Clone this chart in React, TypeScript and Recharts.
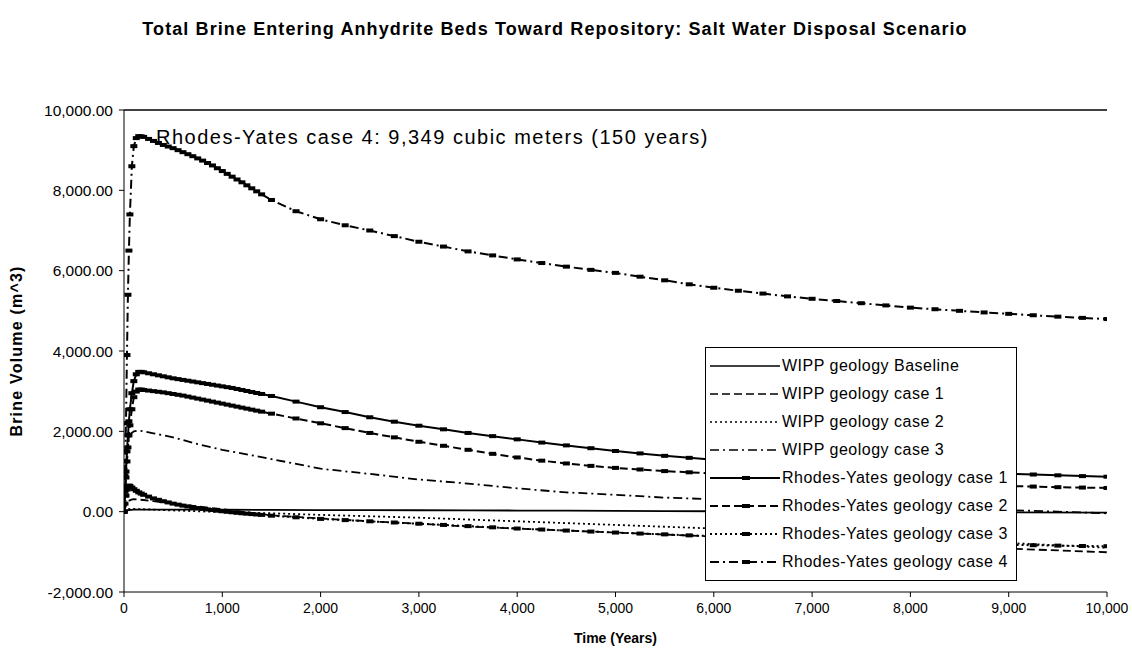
import React from 'react';
import { LineChart, Line, XAxis, YAxis, ReferenceLine, ReferenceDot, Legend } from 'recharts';

const FONT = '"Liberation Sans", Arial, Helvetica, sans-serif';

// Time steps (years) for Rhodes-Yates runs (dense early output)
const tRY = [0, 10, 20, 30, 40, 50, 60, 80, 100, 125, 150, 175, 200, 250, 300, 350, 400, 450, 500, 550, 600, 650, 700, 750, 800, 850, 900, 950, 1000,
  1050, 1100, 1150, 1200, 1250, 1300, 1350, 1400,
  1500, 1750, 2000, 2250, 2500, 2750, 3000, 3250, 3500, 3750, 4000, 4250, 4500, 4750, 5000, 5250, 5500, 5750, 6000,
  6250, 6500, 6750, 7000, 7250, 7500, 7750, 8000, 8250, 8500, 8750, 9000, 9250, 9500, 9750, 10000];

const ryCase1 = [0, 500, 1000, 1500, 1900, 2250, 2550, 2950, 3250, 3420, 3480, 3480, 3470, 3445, 3420, 3395, 3370, 3345, 3320, 3300, 3280, 3260, 3240, 3220, 3200, 3180, 3160, 3140, 3120,
  3100, 3080, 3055, 3030, 3005, 2980, 2955, 2930,
  2880, 2740, 2600, 2480, 2350, 2240, 2140, 2050, 1960, 1880, 1800, 1720, 1650, 1580, 1510, 1450, 1390, 1340, 1290,
  1250, 1210, 1170, 1140, 1110, 1080, 1055, 1030, 1005, 985, 965, 945, 925, 905, 885, 870];

const ryCase2 = [0, 400, 850, 1250, 1600, 1900, 2150, 2550, 2850, 2990, 3040, 3040, 3030, 3015, 3000, 2985, 2970, 2950, 2930, 2910, 2890, 2865, 2840, 2815, 2790, 2765, 2740, 2715, 2690,
  2665, 2640, 2615, 2590, 2565, 2540, 2515, 2490,
  2440, 2320, 2200, 2080, 1960, 1850, 1740, 1640, 1540, 1440, 1350, 1270, 1200, 1140, 1090, 1050, 1010, 980, 950,
  915, 880, 850, 820, 790, 765, 740, 720, 695, 675, 655, 640, 625, 610, 600, 590];

const ryCase3 = [0, 200, 400, 550, 620, 650, 640, 600, 560, 520, 480, 450, 420, 375, 330, 295, 260, 230, 200, 175, 150, 130, 110, 90, 70, 55, 40, 25, 10,
  -3, -15, -28, -40, -50, -60, -70, -80,
  -100, -140, -180, -210, -240, -270, -300, -330, -360, -390, -420, -445, -470, -495, -520, -545, -565, -590, -610,
  -630, -655, -675, -695, -715, -730, -750, -765, -780, -795, -810, -825, -835, -845, -855, -860];

const ryCase4 = [0, 900, 2200, 3900, 5400, 6500, 7400, 8600, 9100, 9300, 9349, 9345, 9330, 9280, 9230, 9180, 9130, 9090, 9050, 9000, 8950, 8900, 8850, 8795, 8740, 8680, 8620, 8550, 8480,
  8410, 8340, 8270, 8200, 8125, 8050, 7975, 7900,
  7760, 7480, 7280, 7130, 7000, 6860, 6720, 6600, 6480, 6380, 6280, 6190, 6100, 6020, 5945, 5850, 5760, 5660, 5575,
  5500, 5430, 5360, 5300, 5245, 5190, 5135, 5080, 5040, 5000, 4960, 4925, 4890, 4855, 4825, 4795];

// Time steps (years) for WIPP geology runs
const tWIPP = [0, 10, 20, 30, 50, 75, 100, 150, 200, 300, 500, 750, 1000, 1500, 2000, 2500, 3000, 3500, 4000, 4500, 5000, 5500, 6000, 7000, 8000, 9000, 10000];

const wippBaseline = [0, 10, 20, 30, 40, 45, 50, 50, 50, 50, 50, 50, 50, 45, 40, 38, 35, 32, 28, 25, 20, 15, 10, 0, -10, -18, -25];
const wippCase1 = [0, 80, 150, 210, 270, 300, 310, 300, 290, 260, 200, 130, 60, -90, -170, -240, -300, -370, -420, -470, -520, -570, -620, -720, -820, -920, -1010];
const wippCase2 = [0, 20, 40, 55, 65, 70, 70, 65, 60, 50, 30, 10, -10, -40, -80, -115, -150, -195, -240, -285, -330, -375, -420, -540, -660, -780, -900];
const wippCase3 = [0, 600, 1100, 1450, 1800, 1950, 2000, 2020, 2000, 1950, 1850, 1680, 1540, 1310, 1070, 940, 800, 700, 580, 480, 420, 350, 310, 220, 130, 40, -40];

const xTicks = [0, 1000, 2000, 3000, 4000, 5000, 6000, 7000, 8000, 9000, 10000];
const yTicks = [-2000, 0, 2000, 4000, 6000, 8000, 10000];

const toData = (t: number[], v: number[]) => t.map((x, i) => ({ t: x, v: v[i] }));

const series = [
  { name: 'WIPP geology Baseline', t: tWIPP, v: wippBaseline, dash: undefined as string | undefined, marker: false },
  { name: 'WIPP geology case 1', t: tWIPP, v: wippCase1, dash: '8 4', marker: false },
  { name: 'WIPP geology case 2', t: tWIPP, v: wippCase2, dash: '2 3', marker: false },
  { name: 'WIPP geology case 3', t: tWIPP, v: wippCase3, dash: '9 4 2 4', marker: false },
  { name: 'Rhodes-Yates geology case 1', t: tRY, v: ryCase1, dash: undefined as string | undefined, marker: true },
  { name: 'Rhodes-Yates geology case 2', t: tRY, v: ryCase2, dash: '8 4', marker: true },
  { name: 'Rhodes-Yates geology case 3', t: tRY, v: ryCase3, dash: '2 3', marker: true },
  { name: 'Rhodes-Yates geology case 4', t: tRY, v: ryCase4, dash: '9 4 2 4', marker: true },
];

const renderMarker = (props: any) => {
  const { cx, cy, index } = props;
  if (cx == null || cy == null) return <g key={`m-${index}`} />;
  return <rect key={`m-${index}`} x={cx - 3.5} y={cy - 2} width={7} height={4} fill="#000" />;
};

const LegendBox = () => (
  <div style={{ border: '1px solid #000', background: '#fff', padding: '4px 4px', boxSizing: 'border-box', width: 312, fontFamily: FONT, fontSize: 16, letterSpacing: 0.5, color: '#000' }}>
    {series.map((s) => (
      <div key={s.name} style={{ display: 'flex', alignItems: 'center', height: 28, whiteSpace: 'nowrap' }}>
        <svg width={70} height={10} style={{ flex: 'none' }}>
          <line x1={0} y1={5} x2={70} y2={5} stroke="#000" strokeWidth={s.marker ? 2 : 1.6} strokeDasharray={s.dash} />
          {s.marker && <rect x={32} y={3} width={8} height={4} fill="#000" />}
        </svg>
        <span style={{ marginLeft: 2 }}>{s.name}</span>
      </div>
    ))}
  </div>
);

const fmtY = (v: number) => v.toLocaleString('en-US', { minimumFractionDigits: 2, maximumFractionDigits: 2 });
const fmtX = (v: number) => v.toLocaleString('en-US');

export default function App() {
  return (
    <div style={{ position: 'absolute', left: 0, top: 0, width: 1132, height: 660, background: '#fff', fontFamily: FONT }}>
      <div style={{ position: 'absolute', left: 0, top: 19, width: 1110, textAlign: 'center', fontWeight: 'bold', fontSize: 18, letterSpacing: 1.1, fontFamily: FONT, color: '#000' }}>
        Total Brine Entering Anhydrite Beds Toward Repository: Salt Water Disposal Scenario
      </div>
      <LineChart width={1132} height={660} margin={{ top: 110, right: 25, bottom: 13, left: 10 }}>
        <XAxis
          type="number"
          dataKey="t"
          domain={[0, 10000]}
          ticks={xTicks}
          tickFormatter={fmtX}
          allowDataOverflow
          height={55}
          stroke="#000"
          tickSize={5}
          tickMargin={6}
          tick={{ fill: '#000', fontSize: 14, fontFamily: FONT }}
          label={{ value: 'Time (Years)', position: 'insideBottom', offset: 4, fill: '#000', fontSize: 14, fontWeight: 'bold', fontFamily: FONT }}
        />
        <YAxis
          type="number"
          domain={[-2000, 10000]}
          ticks={yTicks}
          tickFormatter={fmtY}
          allowDataOverflow
          width={114}
          stroke="#000"
          tickSize={5}
          tickMargin={6}
          tick={{ fill: '#000', fontSize: 15.5, fontFamily: FONT }}
          label={{ value: 'Brine Volume (m^3)', angle: -90, position: 'insideLeft', offset: 6, fill: '#000', fontSize: 16, fontWeight: 'bold', fontFamily: FONT, style: { textAnchor: 'middle', letterSpacing: 1.2 } }}
        />
        <ReferenceLine y={10000} stroke="#000" strokeWidth={1.5} />
        {series.map((s) => (
          <Line
            key={s.name}
            name={s.name}
            data={toData(s.t, s.v)}
            dataKey="v"
            type="linear"
            stroke="#000"
            strokeWidth={s.marker ? 2 : 1.8}
            strokeDasharray={s.dash}
            dot={s.marker ? renderMarker : false}
            activeDot={false}
            isAnimationActive={false}
          />
        ))}
        <ReferenceDot
          x={315}
          y={9330}
          r={1}
          fill="none"
          stroke="none"
          label={{ value: 'Rhodes-Yates case 4: 9,349 cubic meters (150 years)', position: 'right', offset: 0, fill: '#000', fontSize: 20, fontFamily: FONT, style: { letterSpacing: 1.5 } }}
        />
        <Legend
          layout="horizontal"
          verticalAlign="middle"
          align="center"
          width={312}
          wrapperStyle={{ left: 705, top: 347, width: 312 }}
          content={LegendBox}
        />
      </LineChart>
    </div>
  );
}
